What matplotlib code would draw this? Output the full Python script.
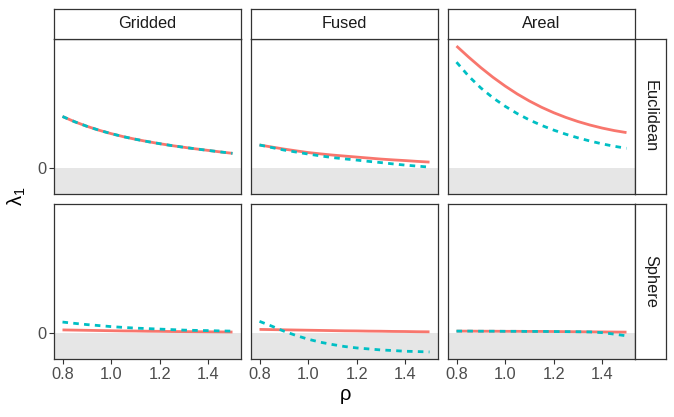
import matplotlib
matplotlib.use("Agg")
import matplotlib.pyplot as plt

plt.rcParams['font.family'] = ['Liberation Sans', 'DejaVu Sans']
plt.rcParams['mathtext.fontset'] = 'custom'
plt.rcParams['mathtext.rm'] = 'Liberation Sans'
plt.rcParams['mathtext.it'] = 'Liberation Sans:italic'

rho = [0.8, 0.85, 0.9, 0.95, 1.0, 1.05, 1.1, 1.15, 1.2, 1.25, 1.3, 1.35, 1.4, 1.45, 1.5]
columns = ["Gridded", "Fused", "Areal"]
rows = ["Euclidean", "Sphere"]

# solid (salmon) and dashed (cyan) series per (row, column)
solid = {
    ("Euclidean", "Gridded"): [0.513, 0.461, 0.416, 0.377, 0.343, 0.313, 0.287, 0.264, 0.243, 0.224, 0.207, 0.191, 0.176, 0.161, 0.147],
    ("Euclidean", "Fused"):   [0.23, 0.21, 0.19, 0.172, 0.155, 0.142, 0.13, 0.12, 0.11, 0.10, 0.09, 0.082, 0.075, 0.067, 0.06],
    ("Euclidean", "Areal"):   [1.213, 1.103, 0.999, 0.903, 0.816, 0.737, 0.667, 0.605, 0.551, 0.504, 0.463, 0.428, 0.398, 0.373, 0.353],
    ("Sphere", "Gridded"):    [0.032, 0.03, 0.028, 0.026, 0.024, 0.022, 0.021, 0.019, 0.018, 0.016, 0.015, 0.014, 0.013, 0.012, 0.011],
    ("Sphere", "Fused"):      [0.037, 0.035, 0.033, 0.031, 0.029, 0.027, 0.025, 0.023, 0.022, 0.02, 0.019, 0.017, 0.016, 0.014, 0.013],
    ("Sphere", "Areal"):      [0.02, 0.02, 0.019, 0.019, 0.018, 0.018, 0.017, 0.017, 0.016, 0.015, 0.014, 0.013, 0.012, 0.011, 0.01],
}
dashed = {
    ("Euclidean", "Gridded"): [0.513, 0.461, 0.416, 0.377, 0.343, 0.313, 0.287, 0.264, 0.243, 0.224, 0.207, 0.191, 0.176, 0.161, 0.147],
    ("Euclidean", "Fused"):   [0.23, 0.205, 0.18, 0.16, 0.14, 0.122, 0.105, 0.092, 0.08, 0.067, 0.055, 0.042, 0.03, 0.02, 0.01],
    ("Euclidean", "Areal"):   [1.053, 0.914, 0.797, 0.699, 0.615, 0.542, 0.479, 0.425, 0.378, 0.337, 0.301, 0.269, 0.241, 0.217, 0.197],
    ("Sphere", "Gridded"):    [0.11, 0.097, 0.085, 0.075, 0.065, 0.057, 0.05, 0.045, 0.04, 0.035, 0.03, 0.027, 0.025, 0.022, 0.02],
    ("Sphere", "Fused"):      [0.117, 0.07, 0.02, -0.023, -0.06, -0.09, -0.113, -0.133, -0.147, -0.157, -0.167, -0.173, -0.18, -0.183, -0.187],
    ("Sphere", "Areal"):      [0.02, 0.02, 0.019, 0.019, 0.018, 0.018, 0.017, 0.017, 0.016, 0.015, 0.014, 0.012, 0.005, -0.01, -0.027],
}
x_ticks = [0.8, 1.0, 1.2, 1.4]
x_tick_labels = ["0.8", "1.0", "1.2", "1.4"]

RED = "#F8766D"
CYAN = "#00BFC4"
W, H = 674, 417
fig = plt.figure(figsize=(W / 100, H / 100), dpi=100)

def fx(px):
    return px / W

def fy(py):
    return 1 - py / H

col_x = [(54, 241), (251, 438), (448, 635)]
row_y = [(39, 194), (204, 359)]
strip_top = (9, 39)
strip_right = (635, 666)

allv = [v for d in (solid, dashed) for s in d.values() for v in s]
ymin, ymax = min(allv), max(allv)
pad = 0.05 * (ymax - ymin)
ylim = (ymin - pad, ymax + pad)
xpad = 0.05 * (max(rho) - min(rho))
xlim = (min(rho) - xpad, max(rho) + xpad)

border = "#333333"
for ri, r in enumerate(rows):
    y0, y1 = row_y[ri]
    for ci, c in enumerate(columns):
        x0, x1 = col_x[ci]
        ax = fig.add_axes([fx(x0), fy(y1), fx(x1) - fx(x0), fy(y0) - fy(y1)])
        ax.set_xlim(*xlim)
        ax.set_ylim(*ylim)
        ax.axhspan(ylim[0], 0, color="#E6E6E6", lw=0, zorder=0)
        ax.plot(rho, solid[(r, c)], color=RED, lw=2.0, solid_capstyle='butt',
                solid_joinstyle='round', zorder=2)
        ax.plot(rho, dashed[(r, c)], color=CYAN, lw=2.0, dashes=(2, 1.9),
                dash_capstyle='butt', zorder=3)
        for sp in ax.spines.values():
            sp.set_color(border)
            sp.set_linewidth(0.9)
        ax.tick_params(length=3.5, width=0.8, color=border, labelcolor="#4D4D4D",
                       labelsize=11.8, pad=2)
        if ci == 0:
            ax.set_yticks([0])
            ax.set_yticklabels(["0"])
        else:
            ax.set_yticks([])
        if ri == len(rows) - 1:
            ax.set_xticks(x_ticks)
            ax.set_xticklabels(x_tick_labels)
        else:
            ax.set_xticks([])
        ax.set_facecolor("white")

# top strips
for ci, c in enumerate(columns):
    x0, x1 = col_x[ci]
    s0, s1 = strip_top
    sax = fig.add_axes([fx(x0), fy(s1), fx(x1) - fx(x0), fy(s0) - fy(s1)])
    sax.set_xticks([]); sax.set_yticks([])
    for sp in sax.spines.values():
        sp.set_color(border); sp.set_linewidth(0.9)
    sax.text(0.5, 0.5, c, ha="center", va="center", fontsize=11.8, color="#1A1A1A",
             transform=sax.transAxes)

# right strips
for ri, r in enumerate(rows):
    y0, y1 = row_y[ri]
    s0, s1 = strip_right
    sax = fig.add_axes([fx(s0), fy(y1), fx(s1) - fx(s0), fy(y0) - fy(y1)])
    sax.set_xticks([]); sax.set_yticks([])
    for sp in sax.spines.values():
        sp.set_color(border); sp.set_linewidth(0.9)
    sax.text(0.5, 0.5, r, ha="center", va="center", fontsize=11.8, color="#1A1A1A",
             rotation=-90, transform=sax.transAxes)

fig.text(fx(345), fy(394), "ρ", ha="center", va="center", fontsize=14.5)
fig.text(fx(17), fy(196), r"$\mathrm{\lambda}_{\mathrm{1}}$", ha="center", va="center",
         fontsize=14.5, rotation=90)

fig.savefig("out.png", dpi=100)
